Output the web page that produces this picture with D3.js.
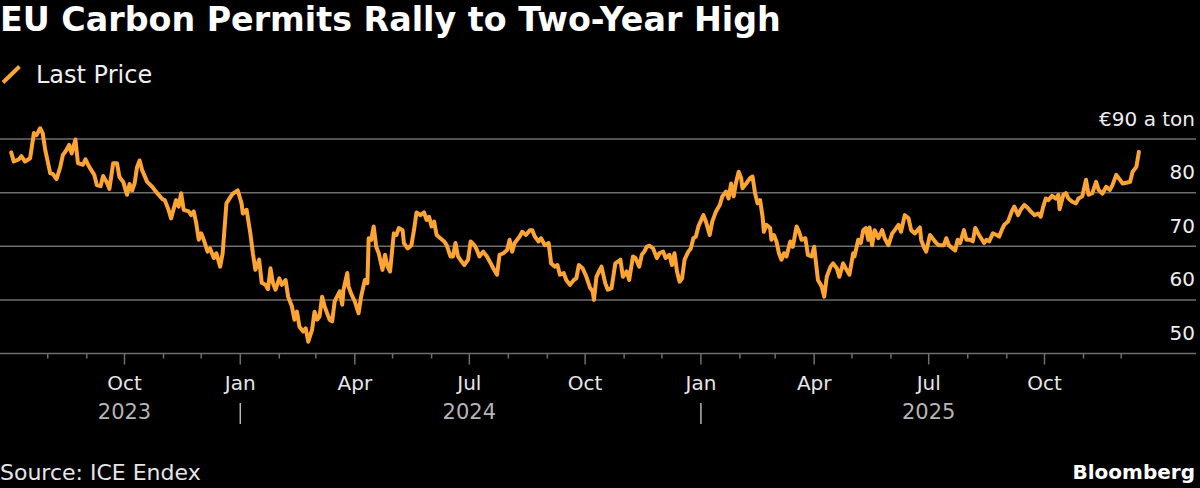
<!DOCTYPE html>
<html>
<head>
<meta charset="utf-8">
<script src="https://cdn.jsdelivr.net/npm/d3@7"></script>
<style>
html,body{margin:0;padding:0;background:#000;}
svg{display:block;}
text{font-family:"DejaVu Sans",Verdana,sans-serif;}
</style>
</head>
<body>
<svg id="chart" width="1200" height="488"></svg>
<script>
// ---- data ----
const title = "EU Carbon Permits Rally to Two-Year High";
const seriesName = "Last Price";
const sourceText = "Source: ICE Endex";
const brandText = "Bloomberg";
const unitLabel = "€90 a ton";
const yTicks = [50, 60, 70, 80, 90];
const quarterMonths = ["Jan", "Apr", "Jul", "Oct"];
const yearLabels = ["2023", "2024", "2025"];
const yearLabelDates = ["2023-10-01", "2024-07-01", "2025-07-01"];
const yearDividerDates = ["2024-01-01", "2025-01-01"];

const dates = [
"2023-07-03","2023-07-05","2023-07-09","2023-07-11","2023-07-14","2023-07-18","2023-07-21","2023-07-23","2023-07-26","2023-07-28","2023-07-30",
"2023-08-03","2023-08-05","2023-08-08","2023-08-11","2023-08-13","2023-08-16","2023-08-18","2023-08-20","2023-08-23","2023-08-25","2023-08-29","2023-08-31",
"2023-09-03","2023-09-07","2023-09-09","2023-09-12","2023-09-14","2023-09-17","2023-09-19","2023-09-22","2023-09-25","2023-09-27","2023-09-30",
"2023-10-03","2023-10-05","2023-10-07","2023-10-09","2023-10-11","2023-10-13","2023-10-15","2023-10-19","2023-10-23","2023-10-27","2023-10-31",
"2023-11-02","2023-11-05","2023-11-07","2023-11-11","2023-11-13","2023-11-15","2023-11-17","2023-11-21","2023-11-23","2023-11-25","2023-11-27","2023-11-29",
"2023-12-01","2023-12-03","2023-12-06","2023-12-08","2023-12-11","2023-12-13","2023-12-16","2023-12-18","2023-12-21","2023-12-24","2023-12-26","2023-12-30",
"2024-01-02","2024-01-03","2024-01-06","2024-01-09","2024-01-11","2024-01-13","2024-01-16","2024-01-18","2024-01-21","2024-01-23","2024-01-25","2024-01-27","2024-01-29",
"2024-02-01","2024-02-03","2024-02-06","2024-02-08","2024-02-11","2024-02-13","2024-02-15","2024-02-17","2024-02-20","2024-02-22","2024-02-24","2024-02-27","2024-02-29",
"2024-03-02","2024-03-04","2024-03-06","2024-03-08","2024-03-10","2024-03-12","2024-03-14","2024-03-16","2024-03-20","2024-03-22","2024-03-23","2024-03-26","2024-03-27","2024-03-29",
"2024-04-01","2024-04-04","2024-04-06","2024-04-09","2024-04-11","2024-04-12","2024-04-14","2024-04-16","2024-04-18","2024-04-20","2024-04-23","2024-04-25","2024-04-27","2024-04-29",
"2024-05-02","2024-05-04","2024-05-06","2024-05-09","2024-05-10","2024-05-13","2024-05-16","2024-05-18","2024-05-20","2024-05-23","2024-05-26","2024-05-28","2024-05-30",
"2024-06-01","2024-06-03","2024-06-05","2024-06-08","2024-06-11","2024-06-13","2024-06-16","2024-06-18","2024-06-20","2024-06-22","2024-06-25","2024-06-27","2024-06-30",
"2024-07-02","2024-07-05","2024-07-07","2024-07-09","2024-07-12","2024-07-15","2024-07-18","2024-07-20","2024-07-23","2024-07-25","2024-07-28","2024-07-31",
"2024-08-02","2024-08-04","2024-08-06","2024-08-08","2024-08-10","2024-08-12","2024-08-15","2024-08-18","2024-08-20","2024-08-22","2024-08-25","2024-08-27","2024-08-30",
"2024-09-02","2024-09-04","2024-09-07","2024-09-09","2024-09-11","2024-09-14","2024-09-16","2024-09-19","2024-09-22","2024-09-24","2024-09-26","2024-09-29",
"2024-10-02","2024-10-05","2024-10-07","2024-10-08","2024-10-10","2024-10-12","2024-10-14","2024-10-17","2024-10-19","2024-10-22","2024-10-25","2024-10-27","2024-10-29","2024-10-31",
"2024-11-03","2024-11-05","2024-11-08","2024-11-10","2024-11-13","2024-11-15","2024-11-17","2024-11-19","2024-11-21","2024-11-24","2024-11-27","2024-11-29",
"2024-12-02","2024-12-04","2024-12-07","2024-12-09","2024-12-11","2024-12-13","2024-12-15","2024-12-17","2024-12-19","2024-12-22","2024-12-24","2024-12-26","2024-12-28","2024-12-30",
"2025-01-03","2025-01-05","2025-01-08","2025-01-10","2025-01-13","2025-01-16","2025-01-18","2025-01-21","2025-01-23","2025-01-25","2025-01-27","2025-01-29","2025-01-31",
"2025-02-02","2025-02-03","2025-02-06","2025-02-09","2025-02-11","2025-02-13","2025-02-15","2025-02-17","2025-02-19","2025-02-20","2025-02-22","2025-02-25","2025-02-26","2025-02-28",
"2025-03-02","2025-03-04","2025-03-06","2025-03-08","2025-03-10","2025-03-13","2025-03-15","2025-03-18","2025-03-20","2025-03-22","2025-03-25","2025-03-27","2025-03-30",
"2025-04-01","2025-04-02","2025-04-04","2025-04-07","2025-04-09","2025-04-11","2025-04-14","2025-04-16","2025-04-19","2025-04-21","2025-04-24","2025-04-26","2025-04-29",
"2025-05-02","2025-05-03","2025-05-06","2025-05-08","2025-05-10","2025-05-12","2025-05-14","2025-05-15","2025-05-17","2025-05-19","2025-05-22","2025-05-25","2025-05-27","2025-05-30",
"2025-06-02","2025-06-04","2025-06-07","2025-06-09","2025-06-12","2025-06-15","2025-06-17","2025-06-20","2025-06-24","2025-06-25","2025-06-27","2025-06-29",
"2025-07-02","2025-07-04","2025-07-07","2025-07-09","2025-07-13","2025-07-15","2025-07-17","2025-07-20","2025-07-22","2025-07-24","2025-07-26","2025-07-29","2025-07-31",
"2025-08-03","2025-08-05","2025-08-07","2025-08-10","2025-08-14","2025-08-16","2025-08-18","2025-08-21","2025-08-24","2025-08-26","2025-08-28","2025-08-30",
"2025-09-02","2025-09-05","2025-09-07","2025-09-10","2025-09-12","2025-09-15","2025-09-18","2025-09-20","2025-09-23","2025-09-26","2025-09-28","2025-09-30",
"2025-10-02","2025-10-04","2025-10-07","2025-10-10","2025-10-12","2025-10-13","2025-10-16","2025-10-18","2025-10-20","2025-10-23","2025-10-26","2025-10-28","2025-10-31",
"2025-11-03","2025-11-05","2025-11-08","2025-11-11","2025-11-13","2025-11-16","2025-11-19","2025-11-22","2025-11-24","2025-11-27","2025-11-30",
"2025-12-02","2025-12-06","2025-12-08","2025-12-10","2025-12-13","2025-12-15"
];
const prices = [
87.5,85.8,86.2,86.8,85.8,86.4,91.1,90.7,92.0,91.1,88.0,
83.6,83.5,82.5,84.8,87.0,88.0,88.9,87.3,89.9,85.5,85.2,86.2,
84.8,83.3,81.4,81.2,83.1,81.9,80.7,85.5,85.5,82.9,82.0,
79.6,81.6,80.4,81.7,84.8,86.0,84.2,82.0,81.1,79.9,78.8,
78.6,76.8,75.2,78.6,77.4,79.9,76.8,76.5,75.8,76.5,74.3,71.2,
72.4,71.2,69.0,69.6,67.8,68.7,66.2,68.7,78.0,79.1,79.8,80.4,
78.0,76.1,76.8,72.4,68.7,65.6,67.5,63.2,62.8,62.0,65.9,63.1,61.9,
64.0,62.8,63.7,60.6,58.8,56.3,57.8,55.0,54.1,54.7,52.2,54.4,57.8,
56.3,56.9,60.6,58.8,57.5,56.3,56.0,59.7,61.6,59.1,61.9,65.0,62.5,61.2,
59.7,57.5,60.6,63.7,63.1,71.5,71.2,73.7,69.9,68.7,65.6,68.4,66.2,65.3,
72.4,72.1,73.4,73.0,70.6,69.6,70.2,73.0,76.3,75.8,76.3,74.9,75.5,
73.7,74.6,72.1,71.5,70.9,70.2,68.1,68.1,70.6,68.1,67.1,66.5,67.5,
70.9,70.2,69.3,68.1,69.0,68.1,66.8,65.9,64.7,68.4,68.7,69.3,
71.2,69.0,70.6,71.2,71.8,72.7,72.1,73.0,73.0,71.8,70.9,71.5,70.2,
70.6,66.8,66.2,66.5,64.7,65.0,63.7,62.8,63.7,64.0,66.5,65.9,
64.3,62.2,61.6,60.0,64.3,65.3,66.2,63.1,61.9,62.2,66.8,67.1,67.5,64.3,
65.3,63.7,68.1,67.8,66.2,68.4,69.0,69.9,70.1,69.6,67.8,68.7,
69.0,67.8,68.4,66.5,68.7,65.3,63.4,64.0,67.5,69.0,69.6,71.5,71.8,73.7,
75.8,74.6,72.1,74.6,76.5,77.7,79.3,80.2,78.9,81.7,79.3,82.0,83.9,
82.7,80.8,81.7,82.7,83.0,79.9,78.0,78.6,75.5,72.7,74.0,73.4,71.2,72.1,
70.9,68.7,67.5,68.7,68.1,70.9,69.9,73.7,72.7,71.2,71.5,68.4,68.1,
69.9,67.8,63.7,62.5,60.6,64.3,66.2,66.8,65.9,64.3,66.8,65.9,64.7,
68.7,68.1,71.2,70.6,73.0,73.4,71.2,73.5,70.2,73.0,71.5,73.0,71.5,70.2,
72.4,73.0,74.0,72.7,75.8,75.2,73.0,72.4,73.5,71.2,69.9,69.0,
72.1,71.5,70.6,70.2,70.2,71.5,70.2,69.6,69.2,71.2,70.6,73.0,71.2,
71.2,70.9,73.4,72.1,70.6,71.2,70.9,72.4,72.1,71.8,73.0,74.0,
74.6,76.5,77.4,75.8,76.8,77.7,77.1,76.5,75.8,76.1,75.5,77.4,
78.9,78.6,79.4,78.9,79.6,76.9,79.6,79.9,78.9,78.3,78.0,78.9,79.3,
82.4,79.6,79.9,82.0,80.5,79.8,81.1,80.5,81.4,83.3,82.4,
81.7,81.9,82.0,83.9,84.8,87.6
];

// ---- drawing ----
const parse = d3.timeParse("%Y-%m-%d");
const data = dates.map((d, i) => ({date: parse(d), value: prices[i]}));

const W = 1200, H = 488;
const svg = d3.select("#chart");
svg.append("rect").attr("width", W).attr("height", H).attr("fill", "#000");

const plotLeft = 0, plotRight = 1196;
const x = d3.scaleTime()
  .domain([parse("2023-10-01"), parse("2025-10-01")])
  .range([124.5, 1044.5]);
const y = d3.scaleLinear().domain([50, 90]).range([353.5, 139]);

const ORANGE = "#fda432";
const GRID = "#6e6e6e";

// title
svg.append("text").attr("x", 0).attr("y", 31)
  .attr("fill", "#fff").attr("font-size", 33.3).attr("font-weight", "bold")
  .text(title);

// legend
svg.append("line").attr("x1", 3).attr("y1", 82.5).attr("x2", 19.5).attr("y2", 66.5)
  .attr("stroke", ORANGE).attr("stroke-width", 4);
svg.append("text").attr("x", 36).attr("y", 83)
  .attr("fill", "#eee").attr("font-size", 24).text(seriesName);

// gridlines
const gridVals = yTicks.filter(v => v !== 50);
svg.append("g").selectAll("line").data(gridVals).join("line")
  .attr("x1", plotLeft).attr("x2", plotRight)
  .attr("y1", d => y(d)).attr("y2", d => y(d))
  .attr("stroke", GRID).attr("stroke-width", 1.5);

// y labels (above gridlines, right aligned)
svg.append("g").selectAll("text").data(yTicks).join("text")
  .attr("x", 1195).attr("y", d => y(d) - 13.5)
  .attr("text-anchor", "end").attr("fill", "#eee").attr("font-size", 20)
  .text(d => d === 90 ? unitLabel : d);

// x axis baseline
svg.append("line").attr("x1", plotLeft).attr("x2", plotRight)
  .attr("y1", y(50)).attr("y2", y(50))
  .attr("stroke", GRID).attr("stroke-width", 1.5);

// month ticks
const monthTicks = d3.timeMonth.range(parse("2023-08-01"), parse("2025-12-02"));
const isQuarter = d => d.getMonth() % 3 === 0;
svg.append("g").selectAll("line").data(monthTicks).join("line")
  .attr("x1", d => x(d)).attr("x2", d => x(d))
  .attr("y1", y(50)).attr("y2", d => y(50) + (isQuarter(d) ? 11 : 5))
  .attr("stroke", GRID).attr("stroke-width", 1.5);

// quarter labels
const fmtMonth = d3.timeFormat("%b");
svg.append("g").selectAll("text").data(monthTicks.filter(isQuarter)).join("text")
  .attr("x", d => x(d)).attr("y", 390)
  .attr("text-anchor", "middle").attr("fill", "#e6e6e6").attr("font-size", 20)
  .text(d => quarterMonths.includes(fmtMonth(d)) ? fmtMonth(d) : "");

// year labels
svg.append("g").selectAll("text").data(yearLabels).join("text")
  .attr("x", (d, i) => x(parse(yearLabelDates[i]))).attr("y", 419)
  .attr("text-anchor", "middle").attr("fill", "#b5b5b5").attr("font-size", 21)
  .text(d => d);
svg.append("g").selectAll("line").data(yearDividerDates).join("line")
  .attr("x1", d => x(parse(d))).attr("x2", d => x(parse(d)))
  .attr("y1", 403).attr("y2", 424)
  .attr("stroke", "#b5b5b5").attr("stroke-width", 1.5);

// line
const line = d3.line().x(d => x(d.date)).y(d => y(d.value)).curve(d3.curveLinear);
svg.append("path").datum(data).attr("d", line)
  .attr("fill", "none").attr("stroke", ORANGE).attr("stroke-width", 4)
  .attr("stroke-linejoin", "round").attr("stroke-linecap", "round");

// footer
svg.append("text").attr("x", 0).attr("y", 480)
  .attr("fill", "#e6e6e6").attr("font-size", 22).text(sourceText);
svg.append("text").attr("x", 1195).attr("y", 479)
  .attr("text-anchor", "end").attr("fill", "#fff").attr("font-size", 20).attr("font-weight", "bold")
  .text(brandText);
</script>
</body>
</html>
